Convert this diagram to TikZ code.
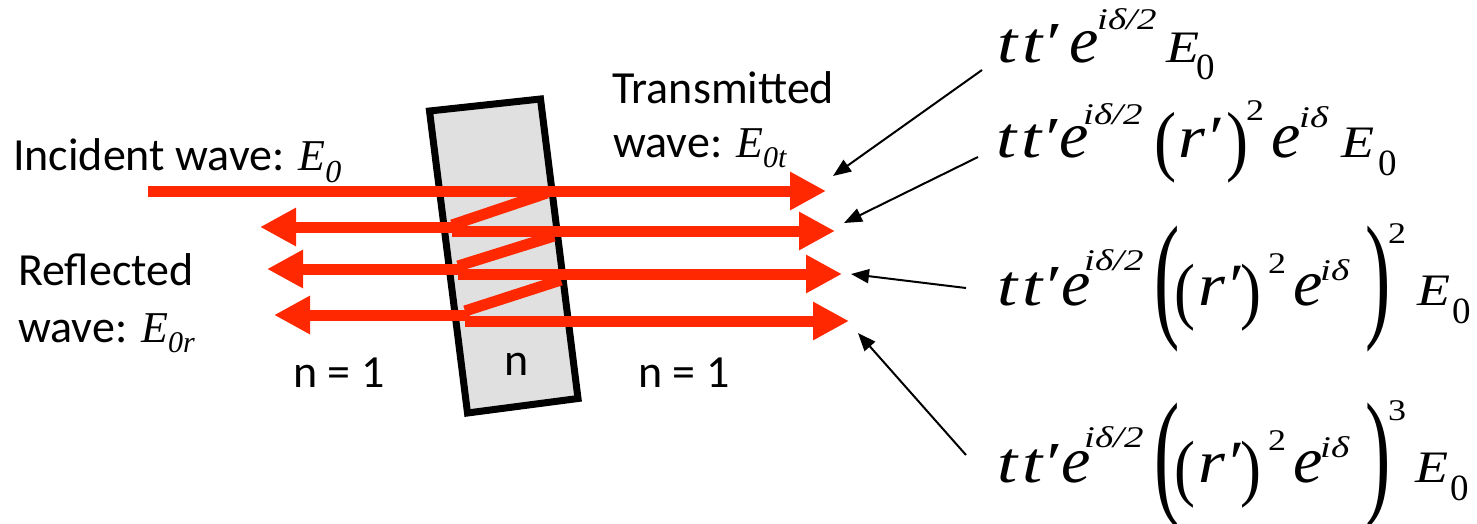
\documentclass[tikz,border=0pt]{standalone}
\usepackage{fontspec}
\setmainfont{Carlito}
\newfontfamily\tnr{Liberation Serif}
\usetikzlibrary{arrows.meta}
\definecolor{wavered}{RGB}{255,40,0}
\definecolor{slabgray}{RGB}{224,224,224}
% italic serif piece: size, x-scale, text
\newcommand\fx[3]{\scalebox{#2}[1]{\tnr\itshape\fontsize{#1}{#1}\selectfont #3}}
% upright serif piece
\newcommand\fu[3]{\scalebox{#2}[1]{\tnr\upshape\fontsize{#1}{#1}\selectfont #3}}
\newcommand\pc[3]{\rlap{\hspace*{#1pt}\raisebox{#2pt}{#3}}}
\newcommand\bigp[1]{\scalebox{0.95}[1.74]{\tnr\upshape\fontsize{80}{80}\selectfont #1}}
\newcommand\midp[1]{\scalebox{0.85}[1]{\tnr\upshape\fontsize{74}{74}\selectfont #1}}
\newcommand\smp[1]{\scalebox{0.85}[1]{\tnr\upshape\fontsize{78}{78}\selectfont #1}}
\tikzset{
  lbl/.style={anchor=base west, inner sep=0pt, font=\fontsize{46}{50}\selectfont},
  formula/.style={anchor=base west, inner sep=0pt, font=\tnr\itshape},
  slab/.style={draw=black, line width=7pt, fill=slabgray, line join=miter},
  redarrow/.style={draw=wavered, line width=11pt, -{Triangle[length=36pt,width=36pt]}},
  redline/.style={draw=wavered, line width=11pt},
  pointer/.style={draw=black, line width=2pt, -{Triangle[length=18pt,width=14pt]}}
}
\begin{document}
\begin{tikzpicture}[x=1pt,y=-1pt]
\path[use as bounding box] (0,0) rectangle (1477,523);

% slab
\draw[slab] (429.5,111) -- (540.5,99) -- (578,398.5) -- (467.5,413) -- cycle;

% coordinates of the rays
\coordinate (s0) at (148,191);
\coordinate (rt1) at (826,191);
\coordinate (f1) at (547,193);
\coordinate (b2) at (452,225);
\coordinate (f2) at (554,236);
\coordinate (b3) at (458,266);
\coordinate (f3) at (561,280);
\coordinate (b4) at (465,311);
\coordinate (l2s) at (457,227);
\coordinate (l2t) at (260,227);
\coordinate (l3s) at (463,269);
\coordinate (l3t) at (267,269);
\coordinate (l4s) at (470,315);
\coordinate (l4t) at (274,315);
\coordinate (r2s) at (452,231);
\coordinate (rt2) at (835,231);
\coordinate (r3s) at (458,274);
\coordinate (rt3) at (842,274);
\coordinate (r4s) at (465,321);
\coordinate (rt4) at (849,321);

\draw[redline] (f1) -- (b2);
\draw[redline] (f2) -- (b3);
\draw[redline] (f3) -- (b4);
\draw[redarrow] (s0) -- (rt1);
\draw[redarrow] (l2s) -- (l2t);
\draw[redarrow] (l3s) -- (l3t);
\draw[redarrow] (l4s) -- (l4t);
\draw[redarrow] (r2s) -- (rt2);
\draw[redarrow] (r3s) -- (rt3);
\draw[redarrow] (r4s) -- (rt4);

% labels
\node[lbl] (inc) at (13,170) {Incident wave: {\tnr\itshape\fontsize{44}{44}\selectfont E\raisebox{-12pt}{\fontsize{32}{32}\selectfont 0}}};
\node[lbl] (refa) at (18,285) {Reflected};
\node[lbl] (refb) at (18,342) {wave: {\tnr\itshape\fontsize{44}{44}\selectfont E\raisebox{-10pt}{\fontsize{30}{30}\selectfont 0r}}};
\node[lbl] (tra) at (612,103) {Transmitted};
\node[lbl] (trb) at (613,157) {wave: {\tnr\itshape\fontsize{44}{44}\selectfont E\raisebox{-10pt}{\fontsize{30}{30}\selectfont 0t}}};
\node[lbl] (nl) at (293,387) {n = 1};
\node[lbl] (nr) at (638,387) {n = 1};
\node[lbl] (ns) at (504,375) {n};

% formulas
\node[formula] (eq1) at (995,62) {\makebox[230pt][l]{%
\pc{2}{0}{\fx{58}{1.25}{t}}%
\pc{27}{0}{\fx{58}{1.25}{t′}}%
\pc{74}{0}{\fx{66}{1}{e}}%
\pc{102}{33}{\fx{30}{1.3}{iδ/2}}%
\pc{171}{0}{\fx{45}{1.2}{E}}%
\pc{201}{-17}{\fu{37}{1}{0}}}};

\node[formula] (eq2) at (995,157) {\makebox[400pt][l]{%
\pc{1}{0}{\fx{58}{1.25}{t}}%
\pc{26}{0}{\fx{58}{1.25}{t′}}%
\pc{64}{0}{\fx{66}{1}{e}}%
\pc{88}{33}{\fx{30}{1.3}{iδ/2}}%
\pc{159}{-9}{\smp{(}}%
\pc{183}{0}{\fx{60}{1.15}{r′}}%
\pc{231}{-9}{\smp{)}}%
\pc{251}{37}{\fu{30}{1.2}{2}}%
\pc{276}{0}{\fx{66}{1}{e}}%
\pc{304}{30}{\fx{30}{1.3}{iδ}}%
\pc{346}{0}{\fx{45}{1.2}{E}}%
\pc{383}{-18}{\fu{37}{1}{0}}}};

\node[formula] (eq3) at (995,305) {\makebox[475pt][l]{%
\pc{2}{0}{\fx{58}{1.25}{t}}%
\pc{27}{0}{\fx{58}{1.25}{t′}}%
\pc{66}{0}{\fx{66}{1}{e}}%
\pc{89}{35}{\fx{30}{1.3}{iδ/2}}%
\pc{159}{-17}{\bigp{(}}%
\pc{179}{-10}{\midp{(}}%
\pc{203}{0}{\fx{60}{1.15}{r′}}%
\pc{245}{-10}{\midp{)}}%
\pc{273}{32}{\fu{30}{1.2}{2}}%
\pc{298}{0}{\fx{66}{1}{e}}%
\pc{325}{25}{\fx{30}{1.3}{iδ}}%
\pc{370}{-17}{\bigp{)}}%
\pc{393}{62}{\fu{30}{1.2}{2}}%
\pc{422}{0}{\fx{45}{1.2}{E}}%
\pc{457}{-18}{\fu{37}{1}{0}}}};

\node[formula] (eq4) at (995,482) {\makebox[475pt][l]{%
\pc{2}{0}{\fx{58}{1.25}{t}}%
\pc{27}{0}{\fx{58}{1.25}{t′}}%
\pc{66}{0}{\fx{66}{1}{e}}%
\pc{89}{35}{\fx{30}{1.3}{iδ/2}}%
\pc{159}{-17}{\bigp{(}}%
\pc{179}{-10}{\midp{(}}%
\pc{203}{0}{\fx{60}{1.15}{r′}}%
\pc{245}{-10}{\midp{)}}%
\pc{273}{32}{\fu{30}{1.2}{2}}%
\pc{298}{0}{\fx{66}{1}{e}}%
\pc{325}{25}{\fx{30}{1.3}{iδ}}%
\pc{370}{-17}{\bigp{)}}%
\pc{393}{62}{\fu{30}{1.2}{3}}%
\pc{420}{0}{\fx{45}{1.2}{E}}%
\pc{455}{-18}{\fu{37}{1}{0}}}};

% pointers
\coordinate (p1) at (982,70);
\coordinate (q1) at (833,176);
\coordinate (p2) at (978,157);
\coordinate (q2) at (844,223);
\coordinate (p3) at (966,288);
\coordinate (q3) at (851,274);
\coordinate (p4) at (966,455);
\coordinate (q4) at (858,333);
\draw[pointer] (p1) -- (q1);
\draw[pointer] (p2) -- (q2);
\draw[pointer] (p3) -- (q3);
\draw[pointer] (p4) -- (q4);
\end{tikzpicture}
\end{document}
